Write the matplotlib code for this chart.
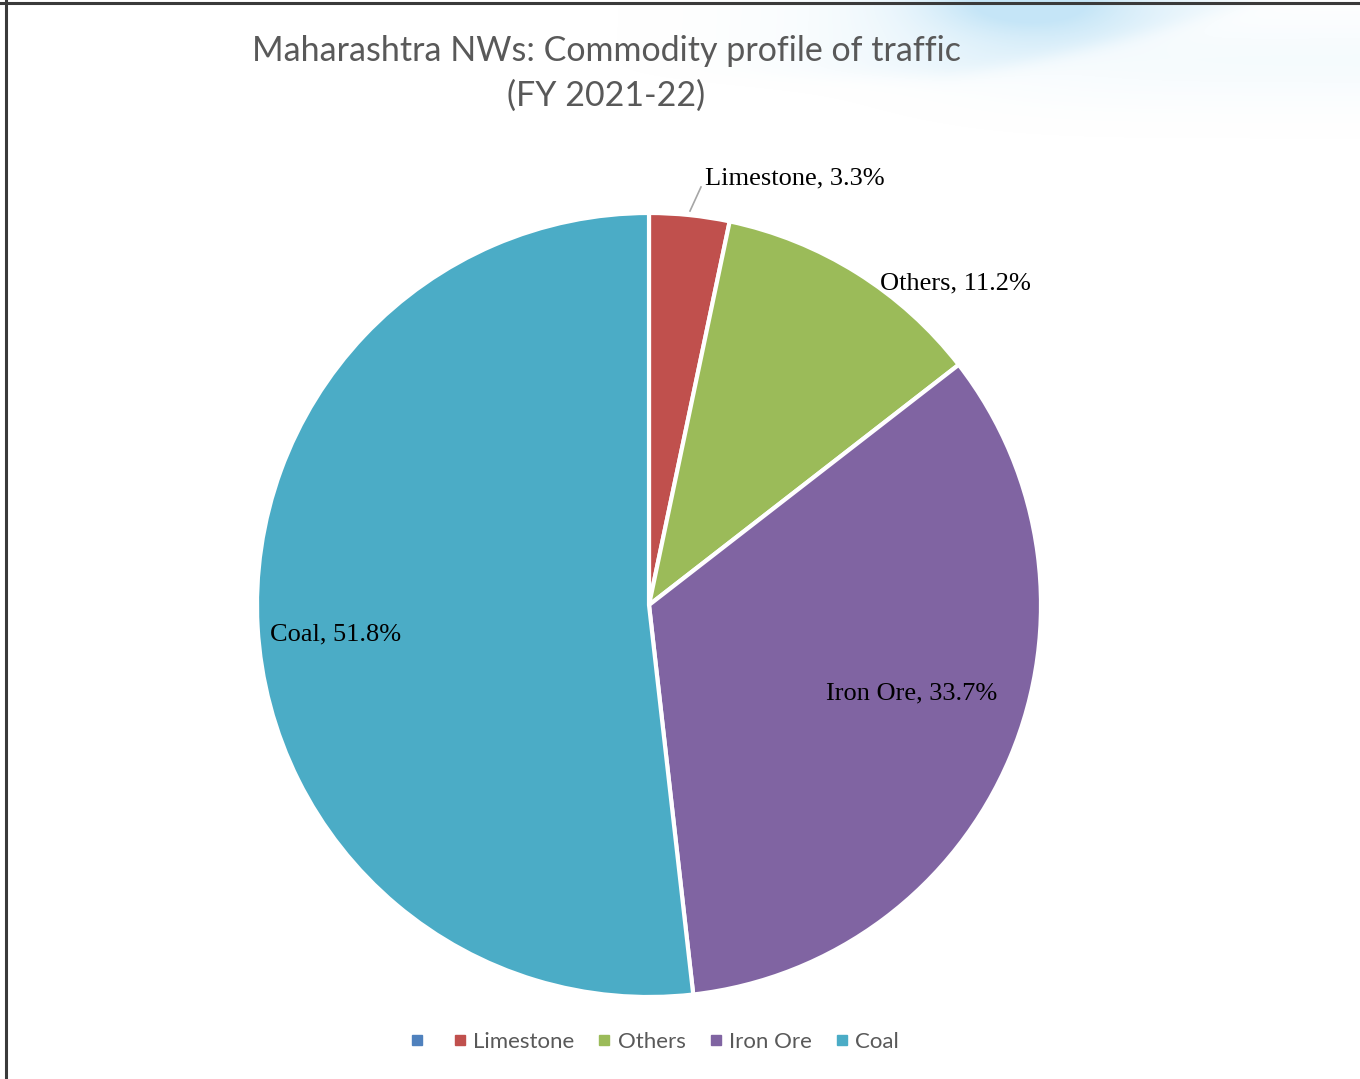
import numpy as np
import matplotlib
matplotlib.use("Agg")
import matplotlib.pyplot as plt
from matplotlib.lines import Line2D

# Commodity shares of traffic, FY 2021-22 (per cent)
commodities = ["Limestone", "Others", "Iron Ore", "Coal"]
shares = [3.3, 11.2, 33.7, 51.8]
colors = ["#C0504D", "#9BBB59", "#8064A2", "#4BACC6"]
blank_color = "#4F81BD"

title_lines = ["Maharashtra NWs: Commodity profile of traffic", "(FY 2021-22)"]

W, H = 1360, 1079
fig = plt.figure(figsize=(W / 100, H / 100), dpi=100)
fig.patch.set_facecolor("white")

# soft blue swoosh in the top-right corner
bg = fig.add_axes([0, 0, 1, 1], zorder=0)
bg.set_axis_off()
X, Y = np.meshgrid(np.arange(W), np.arange(H))
curve = 75 - 70 * ((X - 940) / 300.0).clip(0, None) ** 1.3
above = 1 / (1 + np.exp((Y - curve) / 5.0))
core = np.exp(-((X - 1025) / 95.0) ** 2) * np.exp(-(Y / 32.0) ** 2)
band = above * np.exp(-((X - 1060) / 220.0) ** 2) * 0.22
haze = np.exp(-((Y - 60) / 45.0) ** 2) * (1 / (1 + np.exp(-(X - 980) / 60.0))) * 0.08
alpha = np.clip(core * 0.42 + band + haze, 0, 0.5)
alpha[Y > 160] = 0
img = np.zeros((H, W, 4))
img[..., 0] = 0.55
img[..., 1] = 0.80
img[..., 2] = 0.94
img[..., 3] = alpha
bg.imshow(img, extent=[0, W, H, 0], aspect="auto", interpolation="bilinear")
bg.set_xlim(0, W)
bg.set_ylim(H, 0)

# frame lines along top and left
fig.add_artist(Line2D([0, 1], [1 - 2.5 / H, 1 - 2.5 / H], color="#3a3a3a", lw=2.2))
fig.add_artist(Line2D([5.5 / W, 5.5 / W], [0, 1], color="#3a3a3a", lw=2.2))

# pie
cx, cy, r = 649, 605, 392
ax = fig.add_axes([(cx - r) / W, (H - cy - r) / H, 2 * r / W, 2 * r / H], zorder=2)
wedges, _ = ax.pie(shares, colors=colors, startangle=90, counterclock=False,
                   radius=1, wedgeprops=dict(edgecolor="white", linewidth=3))
ax.set_xlim(-1, 1)
ax.set_ylim(-1, 1)
ax.set_axis_off()

def px(x, y):
    return ((x - cx) / r, (cy - y) / r)

label_pos = {
    "Limestone": (px(795, 178), "center"),
    "Others": (px(955, 283), "center"),
    "Iron Ore": (px(912, 693), "center"),
    "Coal": (px(270, 634), "left"),
}
for name, val in zip(commodities, shares):
    (lx, ly), ha = label_pos[name]
    ax.text(lx, ly, f"{name}, {val}%", ha=ha, va="center",
            fontsize=19, family="Liberation Serif", color="black", clip_on=False)

# leader line for the thin limestone slice
p0, p1 = px(690, 211), px(701, 187)
ax.plot([p0[0], p1[0]], [p0[1], p1[1]], color="#a6a6a6", lw=1.2, clip_on=False)

# title
fig.text(606 / W, 1 - 51 / H, title_lines[0], ha="center", va="center",
         fontsize=24.5, family="Lato", color="#595959")
fig.text(606 / W, 1 - 96 / H, title_lines[1], ha="center", va="center",
         fontsize=24.5, family="Lato", color="#595959")

# legend, with a leading empty series entry
handles = [Line2D([], [], marker="s", ls="", color=blank_color, markersize=7)]
labels = [""]
for name, c in zip(commodities, colors):
    handles.append(Line2D([], [], marker="s", ls="", color=c, markersize=7))
    labels.append(name)
fig.legend(handles, labels, loc="center", bbox_to_anchor=(655 / W, 1 - 1042 / H),
           ncol=5, frameon=False, handlelength=0.5, handletextpad=0.35,
           columnspacing=1.1, prop=dict(family="Lato", size=16), labelcolor="#595959")

fig.savefig("out.png", dpi=100, facecolor="white")
